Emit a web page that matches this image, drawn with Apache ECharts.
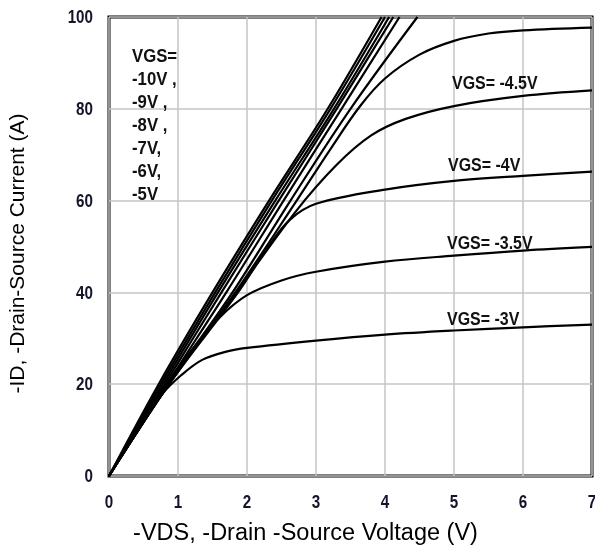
<!DOCTYPE html>
<html>
<head>
<meta charset="utf-8">
<script src="https://cdn.jsdelivr.net/npm/echarts@6/dist/echarts.min.js"></script>
<style>
html,body{margin:0;padding:0;background:#fff;}
#chart{width:595px;height:551px;}
</style>
</head>
<body>
<div id="chart"></div>
<script>
// Tick labels
const xTicks = [0, 1, 2, 3, 4, 5, 6, 7];
const yTicks = [0, 20, 40, 60, 80, 100];

// Curves: [ -VDS (V), -ID (A) ]
const vgsA = [[0,0],[0.72,20],[1.5,40],[2.32,60],[3.17,80],[3.95,100]];
const vgsB = [[0,0],[0.75,20],[1.54,40],[2.36,60],[3.21,80],[4.0,100]];
const vgsC = [[0,0],[0.78,20],[1.58,40],[2.41,60],[3.26,80],[4.06,100]];
const vgsD = [[0,0],[0.81,20],[1.63,40],[2.46,60],[3.3,80],[4.12,100]];
const vgsE = [[0,0],[0.84,20],[1.7,40],[2.53,60],[3.37,80],[4.21,100]];
const vgsF = [[0,0],[0.86,20],[1.79,40],[2.63,60],[3.5,80],[4.47,100]];
const vgsG = [[0,0],[0.87,20],[1.83,40],[2.72,60],[3.2,71],[3.64,80.6],[4,86.6],[4.5,91.8],[5,94.8],[5.5,96.4],[6,97.1],[7,97.7]];
const vgs45 = [[0,0],[0.87,20],[1.85,40],[2.7,57.5],[3.3,67.8],[3.8,74.2],[4.3,77.8],[5,80.6],[6,82.8],[7,84]];
const vgs40 = [[0,0],[0.87,20],[1.87,40],[2.3,49.8],[2.62,55.8],[3.0,59.3],[4,62.4],[5,64.3],[6,65.4],[7,66.3]];
const vgs35 = [[0,0],[0.84,20],[1.2,27.5],[1.6,34.5],[2,39.4],[2.5,42.6],[3,44.5],[4,46.7],[5,48],[6,49.1],[7,49.9]];
const vgs30 = [[0,0],[0.5,12],[0.78,18],[1.05,22],[1.35,25.3],[1.7,27.1],[2,27.9],[3,29.5],[4,30.8],[5,31.7],[6,32.4],[7,33]];

const curves = [vgsA, vgsB, vgsC, vgsD, vgsE, vgsF, vgsG, vgs45, vgs40, vgs35, vgs30];

const leftLabel = 'VGS=\n-10V ,\n-9V ,\n-8V ,\n-7V,\n-6V,\n-5V';
const curveLabels = [
  {text: 'VGS= -4.5V', x: 452, y: 84},
  {text: 'VGS= -4V', x: 448, y: 166},
  {text: 'VGS= -3.5V', x: 447, y: 243.5},
  {text: 'VGS= -3V', x: 447, y: 319.5}
];

const labelFont = '"Liberation Sans", Arial, sans-serif';
const tickFont = 'bold 19px "Liberation Sans", Arial, sans-serif';

const chart = echarts.init(document.getElementById('chart'), null, {renderer: 'canvas'});

const series = curves.map(function (d, i) {
  return {
    type: 'line',
    data: d,
    smooth: 0.35,
    showSymbol: false,
    symbol: 'none',
    clip: true,
    lineStyle: {color: '#000', width: 2.2},
    z: 3
  };
});

const graphics = [{
  type: 'text',
  x: 132,
  y: 45.5,
  scaleX: 0.93,
  style: {
    text: leftLabel,
    font: 'bold 18px ' + labelFont,
    fill: '#111',
    lineHeight: 23,
    verticalAlign: 'top',
    align: 'left'
  },
  z: 10
}].concat(curveLabels.map(function (l) {
  return {
    type: 'text',
    x: l.x,
    y: l.y,
    scaleX: 0.84,
    style: {text: l.text, font: 'bold 19px ' + labelFont, fill: '#111', verticalAlign: 'middle', align: 'left'},
    z: 10
  };
}));

chart.setOption({
  animation: false,
  backgroundColor: '#fff',
  grid: {
    left: 108, right: 3, top: 17, bottom: 72,
    show: true, borderColor: '#000', borderWidth: 3, backgroundColor: 'transparent'
  },
  xAxis: {
    type: 'value', min: xTicks[0], max: xTicks[xTicks.length - 1], interval: 1,
    name: '-VDS, -Drain -Source Voltage (V)',
    nameLocation: 'middle', nameGap: 46,
    nameTextStyle: {fontFamily: 'Liberation Sans', fontSize: 23.5, color: '#000', padding: [0, 90, 0, 0]},
    axisLine: {show: false},
    axisTick: {show: false},
    axisLabel: {show: false},
    splitLine: {show: true, lineStyle: {color: '#c4c4c4', width: 1.5}}
  },
  yAxis: {
    type: 'value', min: yTicks[0], max: yTicks[yTicks.length - 1], interval: 20,
    name: '-ID, -Drain-Source Current (A)',
    nameLocation: 'middle', nameGap: 80,
    nameTextStyle: {fontFamily: 'Liberation Sans', fontSize: 21, color: '#000', padding: [0, 14, 0, 0]},
    axisLine: {show: false},
    axisTick: {show: false},
    axisLabel: {show: false},
    splitLine: {show: true, lineStyle: {color: '#c4c4c4', width: 1.5}}
  },
  series: series,
  graphic: graphics
});

// Narrow bold tick labels placed with the library's own scales
const tickGraphics = [];
xTicks.forEach(function (v) {
  const p = chart.convertToPixel({gridIndex: 0}, [v, yTicks[0]]);
  tickGraphics.push({
    type: 'text', x: p[0], y: p[1] + 27, scaleX: 0.8,
    style: {text: String(v), font: tickFont, fill: '#14142a', align: 'center', verticalAlign: 'middle'},
    z: 10
  });
});
yTicks.forEach(function (v) {
  const p = chart.convertToPixel({gridIndex: 0}, [xTicks[0], v]);
  tickGraphics.push({
    type: 'text', x: p[0] - 16, y: p[1] + 1, scaleX: 0.8,
    style: {text: String(v), font: tickFont, fill: '#14142a', align: 'right', verticalAlign: 'middle'},
    z: 10
  });
});
chart.setOption({graphic: graphics.concat(tickGraphics)}, {replaceMerge: ['graphic']});
</script>
</body>
</html>
